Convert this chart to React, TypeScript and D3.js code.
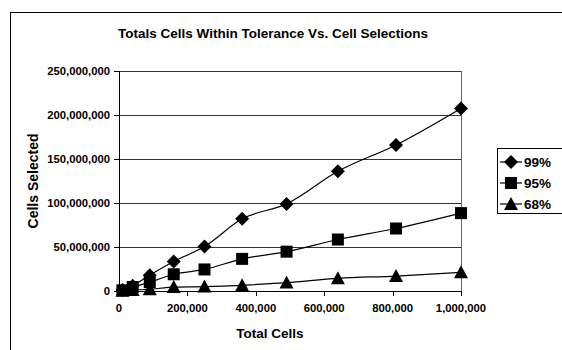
import React from "react";
import * as d3 from "d3";

const totalCells = [10000, 40000, 90000, 160000, 250000, 360000, 490000, 640000, 810000, 1000000];
const s99 = [1000000, 6000000, 18000000, 33500000, 50500000, 82000000, 99000000, 136000000, 166000000, 207500000];
const s95 = [800000, 4500000, 10000000, 19000000, 24500000, 36500000, 44700000, 58500000, 71000000, 88500000];
const s68 = [300000, 1000000, 2000000, 4500000, 5000000, 6500000, 9500000, 14400000, 17000000, 21200000];
const seriesNames = ["99%", "95%", "68%"];
const yTicks = [0, 50000000, 100000000, 150000000, 200000000, 250000000];
const xTicks = [0, 200000, 400000, 600000, 800000, 1000000];

const W = 562, H = 350;
const left = 119, right = 461, top = 71, bottom = 291;
const font = "'Liberation Sans', Arial, sans-serif";

function Marker({ kind, x, y }: { kind: number; x: number; y: number }) {
  if (kind === 0) {
    const r = 7;
    return <path d={`M${x},${y - r}L${x + r},${y}L${x},${y + r}L${x - r},${y}Z`} fill="#000" />;
  }
  if (kind === 1) {
    const r = 6;
    return <rect x={x - r} y={y - r} width={2 * r} height={2 * r} fill="#000" />;
  }
  const r = 7;
  return <path d={`M${x},${y - r}L${x + r},${y + r * 0.85}L${x - r},${y + r * 0.85}Z`} fill="#000" />;
}

export default function App() {
  const x = d3.scaleLinear().domain([0, 1000000]).range([left, right]);
  const y = d3.scaleLinear().domain([0, 250000000]).range([bottom, top]);
  const fmt = d3.format(",");
  const series = [s99, s95, s68];
  const line = d3
    .line<[number, number]>()
    .x((d) => x(d[0]))
    .y((d) => y(d[1]))
    .curve(d3.curveMonotoneX);

  return (
    <svg width={W} height={H} style={{ position: "absolute", left: 0, top: 0, background: "#fff" }}>
      <rect x={10.5} y={12.5} width={700} height={500} fill="#fff" stroke="#000" strokeWidth={1} />
      <text x={273} y={38} textAnchor="middle" fontFamily={font} fontWeight="bold" fontSize={13.5}>
        Totals Cells Within Tolerance Vs. Cell Selections
      </text>
      {yTicks.map((t) => (
        <line key={t} x1={left} x2={right} y1={Math.round(y(t)) + 0.5} y2={Math.round(y(t)) + 0.5} stroke="#000" strokeWidth={0.8} />
      ))}
      <line x1={right + 0.5} x2={right + 0.5} y1={top} y2={bottom} stroke="#666" strokeWidth={1} />
      <line x1={left + 0.5} x2={left + 0.5} y1={top} y2={bottom} stroke="#000" />
      <line x1={left} x2={right} y1={bottom + 0.5} y2={bottom + 0.5} stroke="#000" />
      {yTicks.map((t) => (
        <g key={"y" + t}>
          <line x1={left - 5} x2={left} y1={Math.round(y(t)) + 0.5} y2={Math.round(y(t)) + 0.5} stroke="#000" />
          <text x={left - 9} y={y(t) + 4} textAnchor="end" fontFamily={font} fontWeight="bold" fontSize={11.3}>
            {fmt(t)}
          </text>
        </g>
      ))}
      {xTicks.map((t) => (
        <g key={"x" + t}>
          <line x1={Math.round(x(t)) + 0.5} x2={Math.round(x(t)) + 0.5} y1={bottom} y2={bottom + 5} stroke="#000" />
          <text x={x(t)} y={312} textAnchor="middle" fontFamily={font} fontWeight="bold" fontSize={11.3}>
            {fmt(t)}
          </text>
        </g>
      ))}
      <text x={270} y={338} textAnchor="middle" fontFamily={font} fontWeight="bold" fontSize={13.5}>
        Total Cells
      </text>
      <text
        transform={`translate(38,181) rotate(-90)`}
        textAnchor="middle"
        fontFamily={font}
        fontWeight="bold"
        fontSize={14}
      >
        Cells Selected
      </text>
      {series.map((s, i) => {
        const pts: [number, number][] = totalCells.map((c, j) => [c, s[j]]);
        return (
          <g key={i}>
            <path d={line(pts) || ""} fill="none" stroke="#000" strokeWidth={1.2} />
            {pts.map((p, j) => (
              <Marker key={j} kind={i} x={x(p[0])} y={y(p[1])} />
            ))}
          </g>
        );
      })}
      <rect x={497.5} y={148.5} width={80} height={65} fill="#fff" stroke="#000" />
      {seriesNames.map((n, i) => {
        const ly = 162 + i * 21;
        return (
          <g key={n}>
            <line x1={500} x2={522} y1={ly} y2={ly} stroke="#000" strokeWidth={1.2} />
            <Marker kind={i} x={511} y={ly} />
            <text x={524} y={ly + 5} fontFamily={font} fontWeight="bold" fontSize={13.5}>
              {n}
            </text>
          </g>
        );
      })}
    </svg>
  );
}
